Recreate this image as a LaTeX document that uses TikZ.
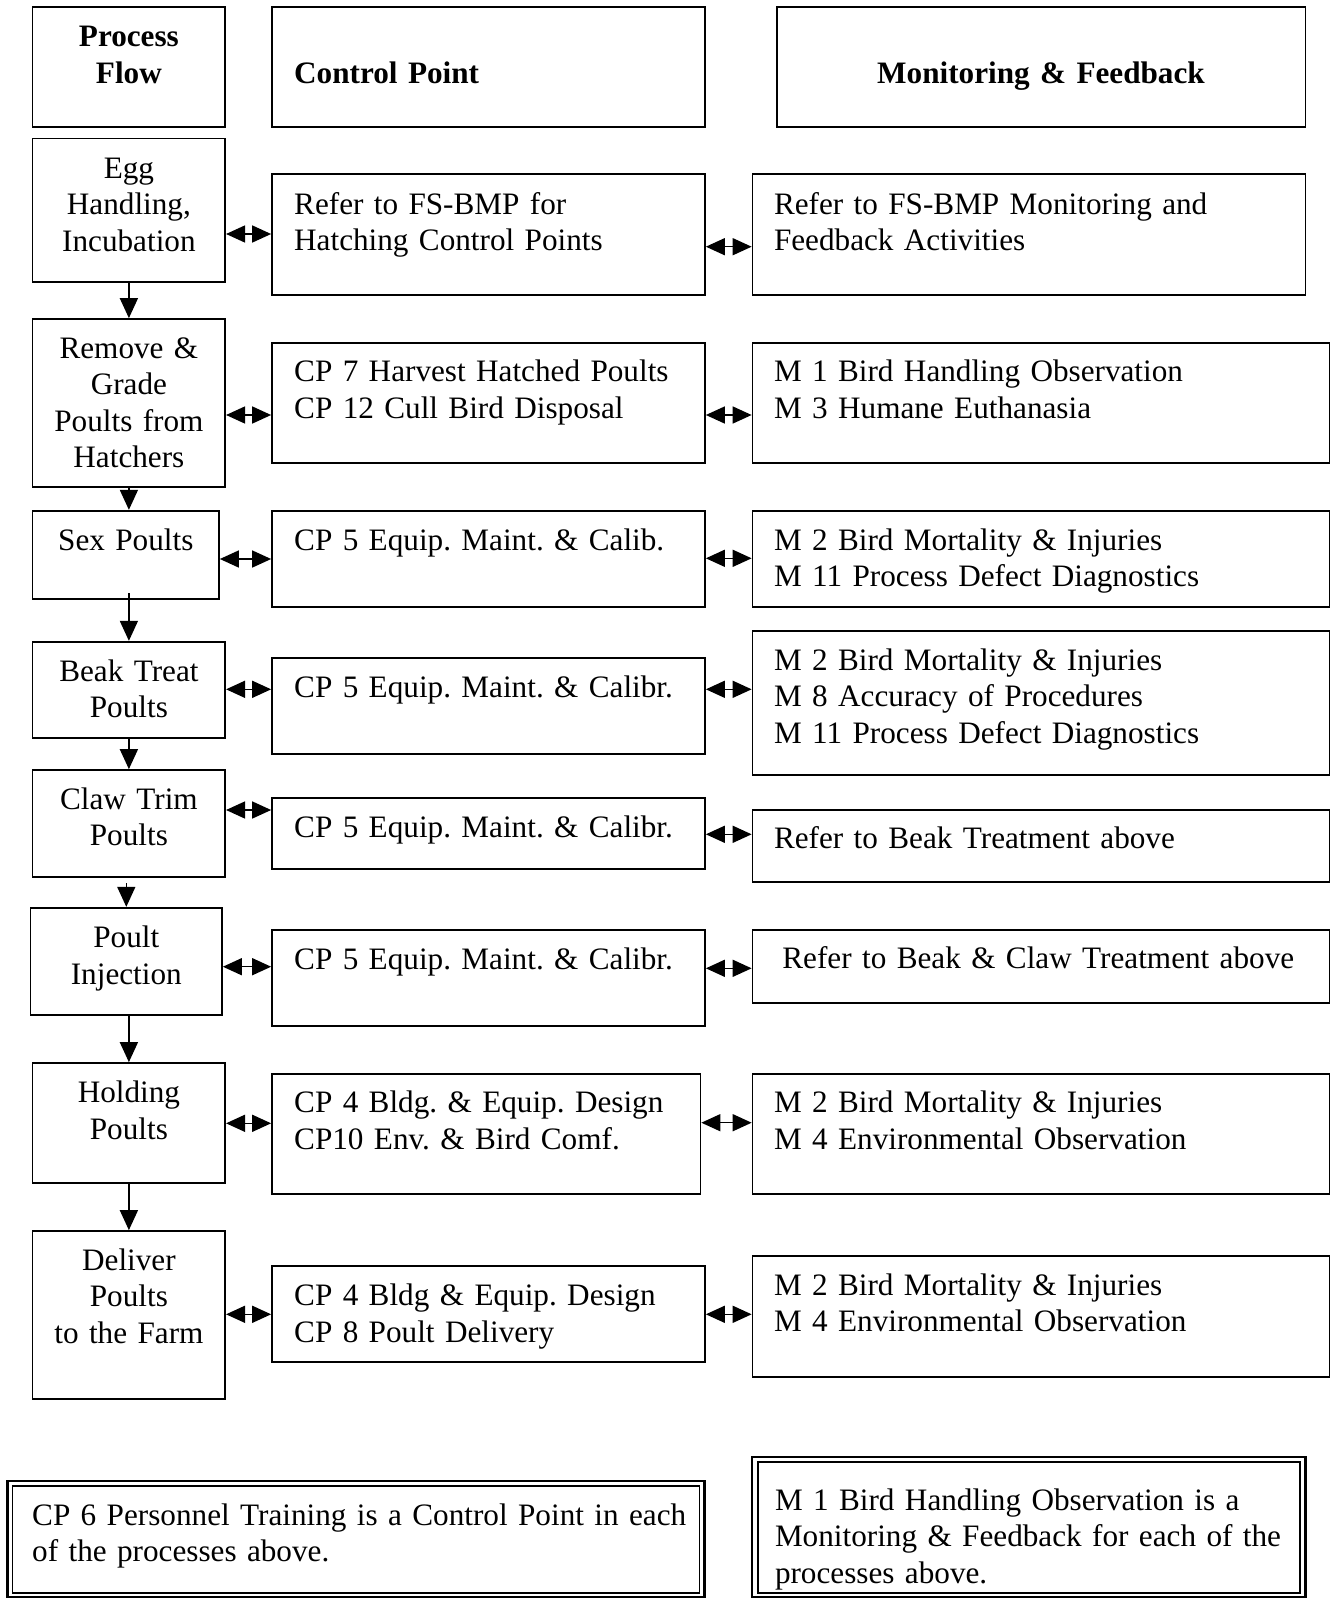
\documentclass[tikz,border=0pt]{standalone}
\usepackage{fontspec}
\setmainfont{Liberation Serif}
\usetikzlibrary{arrows.meta}
\newcommand{\mybox}[5]{\node[box, minimum width={(#4)-(#2)}, minimum height={(#5)-(#3)}] (#1) at ({((#2)+(#4))/2},{((#3)+(#5))/2}) {};}
\tikzset{
 box/.style={draw, line width=1.7pt, inner sep=0pt, rectangle},
 txt/.style={inner sep=0pt, font=\fontsize{31.2}{36.5}\selectfont\frenchspacing, text width=720pt, align=left, anchor=base west},
 ctxt/.style={inner sep=0pt, font=\fontsize{31.2}{36.5}\selectfont\frenchspacing, text width=190pt, align=center, anchor=base},
 varrow/.style={line width=1.5pt, -{Triangle[length=20pt,width=18pt]}},
 harrow/.style={line width=1.5pt, {Triangle[length=19pt,width=17pt]}-{Triangle[length=19pt,width=17pt]}},
}
\begin{document}
\begin{tikzpicture}[x=1pt,y=-1pt]
\useasboundingbox (0,0) rectangle (1334,1598);
% headers
\mybox{hpf}{32.6}{7}{225.2}{126.7}
\mybox{hcp}{272}{7}{705}{126.7}
\mybox{hmf}{776.7}{7}{1305.5}{126.7}
\node[ctxt, font=\fontsize{31.2}{36.5}\selectfont\bfseries] (hpft) at (128.9,46.7) {Process\\Flow};
\node[txt, font=\fontsize{31.2}{36.5}\selectfont\bfseries] (hcpt) at (294,83.3) {Control Point};
\node[ctxt, text width=500pt, font=\fontsize{31.2}{36.5}\selectfont\bfseries] (hmft) at (1041,83.3) {Monitoring \& Feedback};
% row 1 egg
\mybox{a1}{32.6}{138.6}{225.2}{282.3}
\mybox{b1}{272}{174.3}{705}{295}
\mybox{c1}{752.5}{174.3}{1305.5}{295}
\node[ctxt] (a1t) at (128.9,178.3) {Egg\\Handling,\\Incubation};
\node[txt] (b1t) at (294,214.3) {Refer to FS-BMP for\\Hatching Control Points};
\node[txt] (c1t) at (773.8,214.3) {Refer to FS-BMP Monitoring and\\Feedback Activities};
% row 2 remove
\mybox{a2}{32.6}{319}{225.2}{487}
\mybox{b2}{272}{342.7}{705}{462.7}
\mybox{c2}{752.5}{342.7}{1329.5}{462.7}
\node[ctxt] (a2t) at (128.9,358.3) {Remove \&\\Grade\\Poults from\\Hatchers};
\node[txt] (b2t) at (294,381.7) {CP 7 Harvest Hatched Poults\\CP 12 Cull Bird Disposal};
\node[txt] (c2t) at (773.8,381.7) {M 1 Bird Handling Observation\\M 3 Humane Euthanasia};
% row 3 sex
\mybox{a3}{32.6}{510.7}{219}{599}
\mybox{b3}{272}{510.7}{705}{606.7}
\mybox{c3}{752.5}{510.7}{1329.5}{606.7}
\node[ctxt] (a3t) at (125.8,550) {Sex Poults};
\node[txt] (b3t) at (294,550) {CP 5 Equip. Maint. \& Calib.};
\node[txt] (c3t) at (773.8,550) {M 2 Bird Mortality \& Injuries\\M 11 Process Defect Diagnostics};
% row 4 beak
\mybox{a4}{32.6}{641.7}{225.2}{737.7}
\mybox{b4}{272}{657.7}{705}{754}
\mybox{c4}{752.5}{631}{1329.5}{775}
\node[ctxt] (a4t) at (128.9,681) {Beak Treat\\Poults};
\node[txt] (b4t) at (294,697.7) {CP 5 Equip. Maint. \& Calibr.};
\node[txt] (c4t) at (773.8,670) {M 2 Bird Mortality \& Injuries\\M 8 Accuracy of Procedures\\M 11 Process Defect Diagnostics};
% row 5 claw
\mybox{a5}{32.6}{770}{225.2}{877}
\mybox{b5}{272}{798}{705}{869.3}
\mybox{c5}{752.5}{810}{1329.5}{882}
\node[ctxt] (a5t) at (128.9,809) {Claw Trim\\Poults};
\node[txt] (b5t) at (294,837.3) {CP 5 Equip. Maint. \& Calibr.};
\node[txt] (c5t) at (773.8,848.3) {Refer to Beak Treatment above};
% row 6 injection
\mybox{a6}{30.6}{907.7}{222}{1015}
\mybox{b6}{272}{930}{705}{1026}
\mybox{c6}{752.5}{930}{1329.5}{1003}
\node[ctxt] (a6t) at (126.3,947.7) {Poult\\Injection};
\node[txt] (b6t) at (294,969) {CP 5 Equip. Maint. \& Calibr.};
\node[txt] (c6t) at (782.2,968.3) {Refer to Beak \& Claw Treatment above};
% row 7 holding
\mybox{a7}{32.6}{1063}{225.2}{1182.7}
\mybox{b7}{272}{1074}{700.5}{1194}
\mybox{c7}{752.5}{1074}{1329.5}{1194.3}
\node[ctxt] (a7t) at (128.9,1102.7) {Holding\\Poults};
\node[txt] (b7t) at (294,1112.7) {CP 4 Bldg. \& Equip. Design\\CP10 Env. \& Bird Comf.};
\node[txt] (c7t) at (773.8,1112.7) {M 2 Bird Mortality \& Injuries\\M 4 Environmental Observation};
% row 8 deliver
\mybox{a8}{32.6}{1231}{225.2}{1399}
\mybox{b8}{272}{1266}{705}{1361.7}
\mybox{c8}{752.5}{1256}{1329.5}{1377.3}
\node[ctxt] (a8t) at (128.9,1270) {Deliver\\Poults\\to the Farm};
\node[txt] (b8t) at (294,1305.7) {CP 4 Bldg \& Equip. Design\\CP 8 Poult Delivery};
\node[txt] (c8t) at (773.8,1295) {M 2 Bird Mortality \& Injuries\\M 4 Environmental Observation};
% vertical arrows
\draw[varrow] (a1.south) -- (a2.north);
\draw[varrow] (a2.south) -- (a2.south |- a3.north);
\draw[varrow] (a4.north |- 0,593) -- (a4.north);
\draw[varrow] (a4.south) -- (a5.north);
\draw[varrow] (a6.north |- 0,883) -- (a6.north);
\draw[varrow] (a6.south -| a7.north) -- (a7.north);
\draw[varrow] (a7.south) -- (a8.north);
% horizontal arrows
\draw[harrow] (a1.east |- 0,234) -- (b1.west |- 0,234);
\draw[harrow] (b1.east |- 0,246.7) -- (c1.west |- 0,246.7);
\draw[harrow] (a2.east |- 0,415) -- (b2.west |- 0,415);
\draw[harrow] (b2.east |- 0,415) -- (c2.west |- 0,415);
\draw[harrow] (a3.east |- 0,559) -- (b3.west |- 0,559);
\draw[harrow] (b3.east |- 0,558.3) -- (c3.west |- 0,558.3);
\draw[harrow] (a4.east |- 0,689.3) -- (b4.west |- 0,689.3);
\draw[harrow] (b4.east |- 0,689.3) -- (c4.west |- 0,689.3);
\draw[harrow] (a5.east |- 0,810) -- (b5.west |- 0,810);
\draw[harrow] (b5.east |- 0,834.3) -- (c5.west |- 0,834.3);
\draw[harrow] (a6.east |- 0,966.7) -- (b6.west |- 0,966.7);
\draw[harrow] (b6.east |- 0,968.3) -- (c6.west |- 0,968.3);
\draw[harrow] (a7.east |- 0,1123.3) -- (b7.west |- 0,1123.3);
\draw[harrow] (b7.east |- 0,1122.7) -- (c7.west |- 0,1122.7);
\draw[harrow] (a8.east |- 0,1314.3) -- (b8.west |- 0,1314.3);
\draw[harrow] (b8.east |- 0,1314.3) -- (c8.west |- 0,1314.3);
% bottom double boxes
\node[box, line width=2.6pt, minimum width=697pt, minimum height=116pt] (lo) at (356,1539) {};
\node[box, line width=1.5pt, minimum width=687pt, minimum height=107pt] (li) at (356,1539.5) {};
\node[txt] (lt) at (32,1525) {CP 6 Personnel Training is a Control Point in each\\of the processes above.};
\node[box, line width=2.6pt, minimum width=553.5pt, minimum height=140pt] (ro) at (1028.8,1527) {};
\node[box, line width=1.5pt, minimum width=542pt, minimum height=131pt] (ri) at (1029,1527.5) {};
\node[txt] (rt) at (774.8,1510) {M 1 Bird Handling Observation is a\\Monitoring \& Feedback for each of the\\processes above.};
\end{tikzpicture}
\end{document}
